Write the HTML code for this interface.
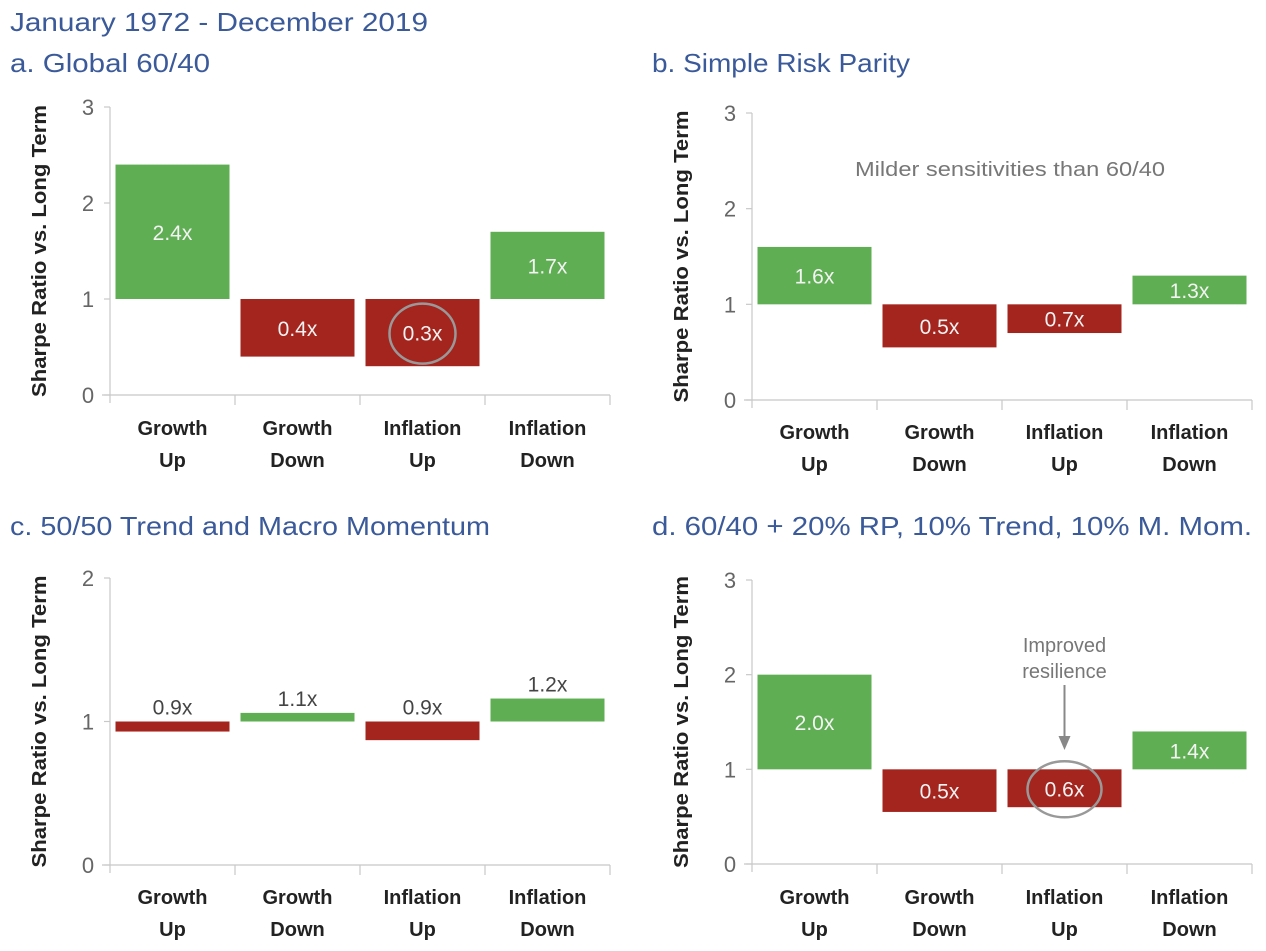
<!DOCTYPE html>
<html><head><meta charset="utf-8"><style>
html,body{margin:0;padding:0;background:#fff;}
svg{display:block;font-family:"Liberation Sans",sans-serif;}
</style></head><body>
<svg id="chart" width="1266" height="951" viewBox="0 0 1266 951" xmlns="http://www.w3.org/2000/svg">
<text x="10" y="31" font-size="26" fill="#3b5a9a" textLength="418" lengthAdjust="spacingAndGlyphs">January 1972 - December 2019</text>
</svg>
<script>
const categories = [["Growth","Up"],["Growth","Down"],["Inflation","Up"],["Inflation","Down"]];
const panelTitles = ["a. Global 60/40","b. Simple Risk Parity","c. 50/50 Trend and Macro Momentum","d. 60/40 + 20% RP, 10% Trend, 10% M. Mom."];
const valuesA = [2.4, 0.4, 0.3, 1.7];
const valuesB = [1.6, 0.55, 0.7, 1.3];
const valuesC = [0.93, 1.06, 0.87, 1.16];
const valuesD = [2.0, 0.55, 0.6, 1.4];
const labelsA = ["2.4x","0.4x","0.3x","1.7x"];
const labelsB = ["1.6x","0.5x","0.7x","1.3x"];
const labelsC = ["0.9x","1.1x","0.9x","1.2x"];
const labelsD = ["2.0x","0.5x","0.6x","1.4x"];
const ticksA = [0,1,2,3];
const ticksC = [0,1,2];

const NS = "http://www.w3.org/2000/svg";
const svg = document.getElementById("chart");
function mk(tag, attrs, parent){ const e=document.createElementNS(NS,tag); for(const k in attrs) e.setAttribute(k,attrs[k]); (parent||svg).appendChild(e); return e; }

const panels = [
 {title:panelTitles[0], tl:200, tx:10, ty:72, x0:110, y0:395, y1:107, max:3, ticks:ticksA, vals:valuesA, labs:labelsA, inside:true, catY:435, key:"a"},
 {title:panelTitles[1], tl:258, tx:652, ty:72, x0:752, y0:400, y1:113, max:3, ticks:ticksA, vals:valuesB, labs:labelsB, inside:true, catY:439, key:"b"},
 {title:panelTitles[2], tl:480, tx:10, ty:535, x0:110, y0:865, y1:578, max:2, ticks:ticksC, vals:valuesC, labs:labelsC, inside:false, catY:904, key:"c"},
 {title:panelTitles[3], tl:600, tx:652, ty:535, x0:752, y0:864, y1:580, max:3, ticks:ticksA, vals:valuesD, labs:labelsD, inside:true, catY:904, key:"d"}
];
const catW = 125, barW = 114;

panels.forEach(p=>{
  const g = mk("g",{});
  
  
  const yS = v => p.y0 - (p.y0-p.y1)*v/p.max;
  const xC = i => p.x0 + catW*i + catW/2;
  const t = mk("text",{x:p.tx,y:p.ty,"font-size":26,fill:"#3b5a9a",textLength:p.tl,lengthAdjust:"spacingAndGlyphs"},g);
  t.textContent = p.title;
  
  
  const ya = mk("line",{x1:p.x0,y1:p.y1,x2:p.x0,y2:p.y0+8,stroke:"#c8c8c8","stroke-width":1.2},g);
  
  
  const xa = mk("line",{x1:p.x0-8,y1:p.y0,x2:p.x0+catW*4,y2:p.y0,stroke:"#c8c8c8","stroke-width":1.2},g);
  
  
  for(let i=1;i<=4;i++) mk("line",{x1:p.x0+catW*i,y1:p.y0,x2:p.x0+catW*i,y2:p.y0+10,stroke:"#c8c8c8","stroke-width":1.2},g);
  p.ticks.forEach(v=>{
    mk("line",{x1:p.x0-6,y1:yS(v),x2:p.x0,y2:yS(v),stroke:"#c8c8c8","stroke-width":1.2},g);
    const tl = mk("text",{x:p.x0-22,y:yS(v)+8,"font-size":22,fill:"#666","text-anchor":"middle"},g);
    tl.textContent = v;
    
    
  });
  const yt = mk("text",{x:0,y:0,"font-size":20,"font-weight":"bold",fill:"#222","text-anchor":"middle",textLength:292,lengthAdjust:"spacingAndGlyphs",transform:`translate(${p.x0-64},${(p.y0+p.y1)/2}) rotate(-90)`},g);
  yt.textContent = "Sharpe Ratio vs. Long Term";
  
  
  p.vals.forEach((v,i)=>{
    const top = Math.min(yS(v),yS(1)), bot = Math.max(yS(v),yS(1));
    const r = mk("rect",{x:xC(i)-barW/2,y:top,width:barW,height:Math.max(bot-top,1),fill:v>=1?"#5fae53":"#a4241e"},g);
    
    
    let ly = p.inside ? (top+bot)/2+8 : top-7;
    const l = mk("text",{x:xC(i),y:ly,"font-size":21,fill:p.inside?"#f3f3f3":"#444","text-anchor":"middle"},g);
    l.textContent = p.labs[i];
    
    
    categories[i].forEach((s,k)=>{
      const c = mk("text",{x:xC(i),y:p.catY+k*32,"font-size":20,"font-weight":"bold",fill:"#222","text-anchor":"middle"},g);
      c.textContent = s;
      
      
    });
  });
  if(p.key==="a"){
    const top=yS(1), bot=yS(valuesA[2]);
    const e = mk("ellipse",{cx:xC(2),cy:(top+bot)/2+1,rx:33,ry:30,fill:"none",stroke:"#999","stroke-width":2.5},g);
    
    
  }
  if(p.key==="b"){
    const n = mk("text",{x:1010,y:176,"font-size":20,fill:"#777","text-anchor":"middle",textLength:310,lengthAdjust:"spacingAndGlyphs"},g);
    n.textContent = "Milder sensitivities than 60/40";
    
    
  }
  if(p.key==="d"){
    const top=yS(1), bot=yS(valuesD[2]);
    const cy=(top+bot)/2+1;
    const e = mk("ellipse",{cx:xC(2),cy:cy,rx:37,ry:28,fill:"none",stroke:"#999","stroke-width":2.5},g);
    
    
    ["Improved","resilience"].forEach((s,k)=>{
      const n = mk("text",{x:xC(2),y:652+k*26,"font-size":20,fill:"#777","text-anchor":"middle"},g);
      n.textContent = s;
      
      
    });
    const a = mk("line",{x1:xC(2),y1:685,x2:xC(2),y2:738,stroke:"#888","stroke-width":2},g);
    
    
    mk("polygon",{points:`${xC(2)-6},736 ${xC(2)+6},736 ${xC(2)},750`,fill:"#888"},g);
  }
});
</script>
</body></html>
